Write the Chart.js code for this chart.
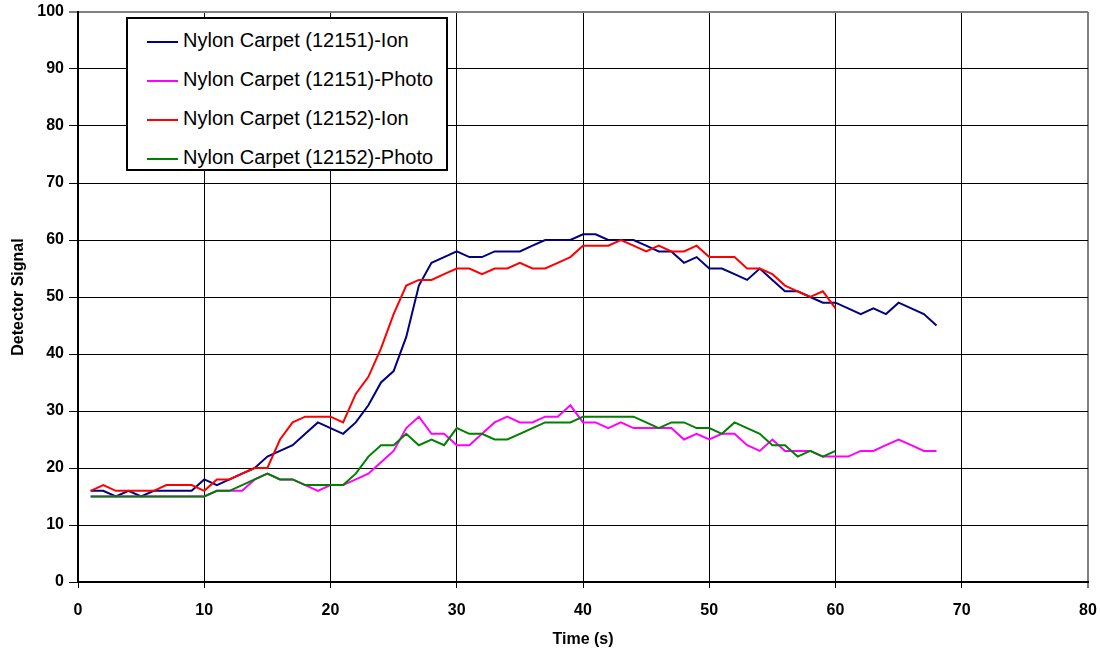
<!DOCTYPE html>
<html>
<head>
<meta charset="utf-8">
<script src="https://cdn.jsdelivr.net/npm/chart.js@4.4.1/dist/chart.umd.min.js"></script>
<style>
  html, body { margin: 0; padding: 0; background: #fff; }
  #wrap { position: relative; width: 1100px; height: 651px; }
  #legend {
    position: absolute; left: 126px; top: 17px; width: 318px; height: 150px;
    border: 2px solid #000; background: #fff;
    font-family: Arial, "Liberation Sans", sans-serif; font-size: 20px; color: #000;
  }
  #legend .item { position: absolute; left: 19px; height: 22px; line-height: 22px; white-space: nowrap; }
  #legend .swatch { display: inline-block; width: 31px; height: 0; border-top: 2px solid; vertical-align: middle; margin-right: 5px; }
</style>
</head>
<body>
<div id="wrap">
  <canvas id="line-chartcanvas" width="1100" height="651"></canvas>
  <div id="legend"></div>
</div>
<script>
// time axis (s)
var times = [1, 2, 3, 4, 5, 6, 7, 8, 9, 10, 11, 12, 13, 14, 15, 16, 17, 18, 19, 20,
             21, 22, 23, 24, 25, 26, 27, 28, 29, 30, 31, 32, 33, 34, 35, 36, 37, 38, 39, 40,
             41, 42, 43, 44, 45, 46, 47, 48, 49, 50, 51, 52, 53, 54, 55, 56, 57, 58, 59, 60,
             61, 62, 63, 64, 65, 66, 67, 68];

var seriesNames = ["Nylon Carpet (12151)-Ion", "Nylon Carpet (12151)-Photo",
                   "Nylon Carpet (12152)-Ion", "Nylon Carpet (12152)-Photo"];

var ion12151 = [16, 16, 15, 16, 15, 16, 16, 16, 16, 18, 17, 18, 19, 20, 22, 23, 24, 26, 28, 27,
                26, 28, 31, 35, 37, 43, 52, 56, 57, 58, 57, 57, 58, 58, 58, 59, 60, 60, 60, 61,
                61, 60, 60, 60, 59, 58, 58, 56, 57, 55, 55, 54, 53, 55, 53, 51, 51, 50, 49, 49,
                48, 47, 48, 47, 49, 48, 47, 45];

var photo12151 = [15, 15, 15, 15, 15, 15, 15, 15, 15, 15, 16, 16, 16, 18, 19, 18, 18, 17, 16, 17,
                  17, 18, 19, 21, 23, 27, 29, 26, 26, 24, 24, 26, 28, 29, 28, 28, 29, 29, 31, 28,
                  28, 27, 28, 27, 27, 27, 27, 25, 26, 25, 26, 26, 24, 23, 25, 23, 23, 23, 22, 22,
                  22, 23, 23, 24, 25, 24, 23, 23];

var ion12152 = [16, 17, 16, 16, 16, 16, 17, 17, 17, 16, 18, 18, 19, 20, 20, 25, 28, 29, 29, 29,
                28, 33, 36, 41, 47, 52, 53, 53, 54, 55, 55, 54, 55, 55, 56, 55, 55, 56, 57, 59,
                59, 59, 60, 59, 58, 59, 58, 58, 59, 57, 57, 57, 55, 55, 54, 52, 51, 50, 51, 48];

var photo12152 = [15, 15, 15, 15, 15, 15, 15, 15, 15, 15, 16, 16, 17, 18, 19, 18, 18, 17, 17, 17,
                  17, 19, 22, 24, 24, 26, 24, 25, 24, 27, 26, 26, 25, 25, 26, 27, 28, 28, 28, 29,
                  29, 29, 29, 29, 28, 27, 28, 28, 27, 27, 26, 28, 27, 26, 24, 24, 22, 23, 22, 23];

var seriesColors = ["#000080", "#FF00FF", "#FF0000", "#008000"];

var fontFamily = "Arial, 'Liberation Sans', sans-serif";

function points(values) {
    return values.map(function (v, i) { return { x: times[i], y: v }; });
}

var allValues = [ion12151, photo12151, ion12152, photo12152];

var datasets = allValues.map(function (vals, i) {
    return {
        label: seriesNames[i],
        data: points(vals),
        borderColor: seriesColors[i],
        backgroundColor: seriesColors[i],
        borderWidth: 2,
        fill: false,
        tension: 0,
        pointRadius: 0
    };
});

// draw in reverse order so Ion 12151 sits on top like the original
datasets.forEach(function (d, i) { d.order = 3 - i; });

var ctx = document.getElementById("line-chartcanvas");

var chart = new Chart(ctx, {
    type: "line",
    data: { datasets: datasets },
    options: {
        responsive: false,
        animation: false,
        layout: { padding: { top: 12, right: 12, left: 0, bottom: 0 } },
        plugins: {
            legend: { display: false },
            tooltip: { enabled: false }
        },
        scales: {
            x: {
                type: "linear",
                min: 0,
                max: 80,
                ticks: {
                    stepSize: 10,
                    color: "#000",
                    padding: 13,
                    font: { family: fontFamily, size: 16, weight: "bold" }
                },
                grid: {
                    color: function (c) { return c.tick && c.tick.value === 80 ? "#808080" : "#000"; },
                    lineWidth: function (c) { return c.tick && c.tick.value === 80 ? 2 : 1; },
                    tickLength: 6
                },
                border: { color: "#000", width: 2 },
                title: {
                    display: true,
                    text: "Time (s)",
                    color: "#000",
                    padding: { top: 4, bottom: 2 },
                    font: { family: fontFamily, size: 16, weight: "bold" }
                },
                afterFit: function (scale) {
                    scale.height = 69;
                    scale.paddingLeft = 0;
                    scale.paddingRight = 0;
                }
            },
            y: {
                min: 0,
                max: 100,
                ticks: {
                    stepSize: 10,
                    color: "#000",
                    padding: 5,
                    font: { family: fontFamily, size: 16, weight: "bold" }
                },
                grid: {
                    color: function (c) { return c.tick && c.tick.value === 100 ? "#808080" : "#000"; },
                    lineWidth: function (c) { return c.tick && c.tick.value === 100 ? 2 : 1; },
                    tickLength: 9
                },
                border: { color: "#000", width: 2 },
                title: {
                    display: true,
                    text: "Detector Signal",
                    color: "#000",
                    padding: { top: 9, bottom: 4 },
                    font: { family: fontFamily, size: 16, weight: "bold" }
                },
                afterFit: function (scale) {
                    scale.width = 78;
                    scale.paddingTop = 0;
                    scale.paddingBottom = 0;
                }
            }
        }
    }
});

// legend box inside the plot, built from the same series
var legend = document.getElementById("legend");
seriesNames.forEach(function (name, i) {
    var item = document.createElement("div");
    item.className = "item";
    item.style.top = (10 + i * 39) + "px";
    var sw = document.createElement("span");
    sw.className = "swatch";
    sw.style.borderTopColor = seriesColors[i];
    item.appendChild(sw);
    item.appendChild(document.createTextNode(name));
    legend.appendChild(item);
});
</script>
</body>
</html>
